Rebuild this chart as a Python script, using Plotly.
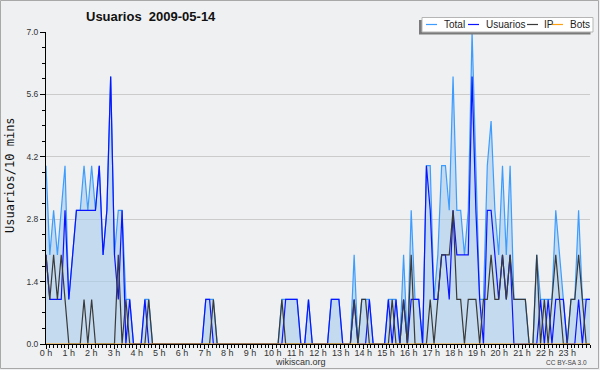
import plotly.graph_objects as go

# ---------------- data (10-minute slots, 144 per day) ----------------
slots = list(range(144))
hour_labels = [f"{h} h" for h in range(24)]
y_tick_vals = [0.0, 1.4, 2.8, 4.2, 5.6, 7.0]

total = [4, 2, 3, 2, 3, 4, 1, 2, 3, 3, 4, 3,
         4, 3, 4, 2, 3, 6, 2, 3, 3, 1, 1, 0,
         0, 0, 1, 1, 0, 0, 0, 0, 0, 0, 0, 0,
         0, 0, 0, 0, 0, 0, 1, 1, 1, 0, 0, 0,
         0, 0, 0, 0, 0, 0, 0, 0, 0, 0, 0, 0,
         0, 0, 1, 1, 1, 1, 1, 0, 0, 1, 0, 0,
         0, 0, 0, 1, 1, 1, 0, 0, 0, 2, 0, 1,
         1, 1, 0, 0, 0, 0, 1, 1, 1, 0, 2, 0,
         3, 1, 1, 0, 4, 4, 1, 2, 4, 4, 3, 6,
         3, 3, 2, 3, 7, 4, 1, 1, 4, 5, 3, 2,
         4, 2, 4, 1, 1, 1, 1, 0, 0, 2, 1, 1,
         1, 1, 3, 2, 1, 0, 1, 1, 3, 1, 1, 1]

usuarios = [2, 1, 1, 1, 1, 3, 1, 2, 3, 3, 3, 3,
            3, 3, 4, 2, 3, 6, 2, 1, 3, 0, 1, 0,
            0, 0, 1, 0, 0, 0, 0, 0, 0, 0, 0, 0,
            0, 0, 0, 0, 0, 0, 1, 1, 0, 0, 0, 0,
            0, 0, 0, 0, 0, 0, 0, 0, 0, 0, 0, 0,
            0, 0, 0, 1, 1, 1, 1, 0, 0, 1, 0, 0,
            0, 0, 0, 1, 1, 1, 0, 0, 0, 1, 0, 0,
            0, 1, 0, 0, 0, 0, 1, 0, 1, 0, 1, 0,
            1, 1, 1, 0, 4, 3, 1, 1, 2, 2, 1, 3,
            2, 2, 2, 2, 6, 3, 1, 0, 3, 3, 2, 1,
            2, 1, 2, 0, 0, 0, 0, 0, 0, 0, 1, 0,
            1, 0, 1, 1, 1, 0, 0, 0, 1, 0, 1, 1]

ip = [2, 1, 2, 1, 2, 1, 0, 0, 0, 0, 1, 0,
      1, 0, 0, 0, 0, 0, 0, 2, 0, 1, 0, 0,
      0, 0, 0, 1, 0, 0, 0, 0, 0, 0, 0, 0,
      0, 0, 0, 0, 0, 0, 0, 0, 1, 0, 0, 0,
      0, 0, 0, 0, 0, 0, 0, 0, 0, 0, 0, 0,
      0, 0, 1, 0, 0, 0, 0, 0, 0, 0, 0, 0,
      0, 0, 0, 0, 0, 0, 0, 0, 0, 1, 0, 1,
      1, 0, 0, 0, 0, 0, 0, 1, 0, 0, 1, 0,
      2, 0, 0, 0, 0, 1, 0, 1, 2, 2, 2, 3,
      1, 1, 0, 1, 1, 1, 0, 1, 1, 2, 1, 1,
      2, 1, 2, 1, 1, 1, 1, 0, 0, 2, 0, 1,
      0, 1, 2, 1, 0, 0, 1, 1, 2, 1, 0, 0]

bots = [0, 0, 0, 0, 0, 0, 0, 0, 0, 0, 0, 0,
        0, 0, 0, 0, 0, 0, 0, 0, 0, 0, 0, 0,
        0, 0, 0, 0, 0, 0, 0, 0, 0, 0, 0, 0,
        0, 0, 0, 0, 0, 0, 0, 0, 0, 0, 0, 0,
        0, 0, 0, 0, 0, 0, 0, 0, 0, 0, 0, 0,
        0, 0, 0, 0, 0, 0, 0, 0, 0, 0, 0, 0,
        0, 0, 0, 0, 0, 0, 0, 0, 0, 0, 0, 0,
        0, 0, 0, 0, 0, 0, 0, 0, 0, 0, 0, 0,
        0, 0, 0, 0, 0, 0, 0, 0, 0, 0, 0, 0,
        0, 0, 0, 0, 0, 0, 0, 0, 0, 0, 0, 0,
        0, 0, 0, 0, 0, 0, 0, 0, 0, 0, 0, 0,
        0, 0, 0, 0, 0, 0, 0, 0, 0, 0, 0, 0]

series_names = ["Total", "Usuarios", "IP", "Bots"]
series_colors = ["#3d9cff", "#0a14ff", "#3a3a3a", "#ffa010"]

# slots are spread over the full day width of the axis
hours = [s * 24 / (len(slots) - 1) for s in slots]

# ---------------- figure ----------------
W, H = 600, 370
L, R, T, B = 46, 10, 32, 26
BG = "#eff0f1"

fig = go.Figure()
fig.add_trace(go.Scatter(x=hours, y=total, mode="lines", name="Total",
                         line=dict(color=series_colors[0], width=1.2),
                         fill="tozeroy", fillcolor="rgba(170,205,235,0.62)"))
fig.add_trace(go.Scatter(x=hours, y=usuarios, mode="lines", name="Usuarios",
                         line=dict(color=series_colors[1], width=1.2)))
fig.add_trace(go.Scatter(x=hours, y=ip, mode="lines", name="IP",
                         line=dict(color=series_colors[2], width=1.2)))
fig.add_trace(go.Scatter(x=hours, y=bots, mode="lines", name="Bots",
                         line=dict(color=series_colors[3], width=1.2)))

tickfont = dict(family="Liberation Sans", size=9, color="#333333")

fig.update_layout(
    width=W, height=H,
    margin=dict(l=L, r=R, t=T, b=B, pad=0, autoexpand=False),
    paper_bgcolor=BG, plot_bgcolor=BG,
    showlegend=False,
    xaxis=dict(range=[0, 24], tickmode="array", tickvals=list(range(24)),
               ticktext=hour_labels, ticks="outside", ticklen=4, tickwidth=1,
               tickcolor="black", showgrid=False, zeroline=False,
               showline=True, linecolor="black", linewidth=1,
               tickfont=tickfont, fixedrange=True, automargin=False,
               ticklabelstandoff=-4,
               minor=dict(ticks="outside", ticklen=3, tickcolor="black",
                          tick0=0, dtick=1 / 6, showgrid=False)),
    yaxis=dict(range=[0, 7], tickmode="array", tickvals=y_tick_vals,
               ticktext=[f"{v:.1f}" for v in y_tick_vals],
               ticks="outside", ticklen=5, tickwidth=1, tickcolor="black",
               showgrid=True, gridcolor="#cbcbcb", gridwidth=1,
               zeroline=False, showline=True, linecolor="black", linewidth=1,
               tickfont=dict(family="Liberation Sans", size=8.5, color="#333333"),
               automargin=False, fixedrange=True,
               minor=dict(ticks="outside", ticklen=3, tickcolor="black",
                          tick0=0, dtick=0.35, showgrid=False)),
)

def px(xp):
    return (xp - L) / (W - L - R)

def py(yp):
    return (H - B - yp) / (H - T - B)

shapes = []
annotations = []

# outer border of the image
shapes.append(dict(type="rect", xref="paper", yref="paper",
                   x0=px(0.5), x1=px(598.5), y0=py(0.5), y1=py(368.5),
                   line=dict(color="#a8a8a8", width=1), fillcolor="rgba(0,0,0,0)"))

# legend box with shadow
shapes.append(dict(type="rect", xref="paper", yref="paper",
                   x0=px(419), x1=px(590.5), y0=py(20), y1=py(34.5),
                   line=dict(width=0), fillcolor="#7a7a7a"))
shapes.append(dict(type="rect", xref="paper", yref="paper",
                   x0=px(422), x1=px(593), y0=py(17.5), y1=py(32),
                   line=dict(color="#b5b5b5", width=1), fillcolor="white"))

legend_line_x = [426, 468, 527, 552]
legend_text_x = [442, 484, 542, 568]
for name, color, lx, tx in zip(series_names, series_colors, legend_line_x, legend_text_x):
    shapes.append(dict(type="line", xref="paper", yref="paper",
                       x0=px(lx), x1=px(lx + 11), y0=py(24.5), y1=py(24.5),
                       line=dict(color=color, width=1.2)))
    annotations.append(dict(text=name, xref="paper", yref="paper",
                            x=px(tx), y=py(24.8), xanchor="left", yanchor="middle",
                            showarrow=False,
                            font=dict(family="Liberation Sans", size=10, color="#222222")))

# title
annotations.append(dict(text="<b>Usuarios\u00a0\u00a02009-05-14</b>", xref="paper", yref="paper",
                        x=px(151), y=py(17), xanchor="center", yanchor="middle",
                        showarrow=False,
                        font=dict(family="Liberation Sans", size=13, color="#111111")))

# y axis title
annotations.append(dict(text="Usuarios/10 mins", xref="paper", yref="paper",
                        x=px(10), y=py(175), xanchor="center", yanchor="middle",
                        textangle=-90, showarrow=False,
                        font=dict(family="DejaVu Sans Mono", size=12, color="#111111")))

# footer texts
annotations.append(dict(text="wikiscan.org", xref="paper", yref="paper",
                        x=px(300), y=py(361.5), xanchor="center", yanchor="middle",
                        showarrow=False,
                        font=dict(family="Liberation Sans", size=9, color="#333333")))
annotations.append(dict(text="CC BY-SA 3.0", xref="paper", yref="paper",
                        x=px(589), y=py(362), xanchor="right", yanchor="middle",
                        showarrow=False,
                        font=dict(family="Liberation Sans", size=6.5, color="#444444")))

fig.update_layout(shapes=shapes, annotations=annotations)

fig.write_html("out.html", config={"displayModeBar": False},
               post_script="document.body.style.margin='0px';")
